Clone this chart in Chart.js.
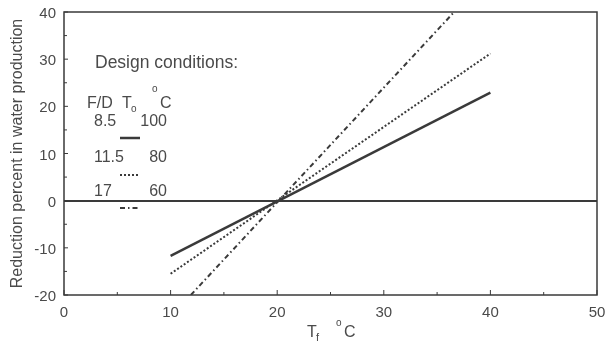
<!DOCTYPE html>
<html>
<head>
<meta charset="utf-8">
<script src="https://cdn.jsdelivr.net/npm/chart.js@4/dist/chart.umd.min.js"></script>
<style>
  html, body { margin: 0; padding: 0; background: #fff; }
</style>
</head>
<body>
<canvas id="chart" width="616" height="342"></canvas>
<script>
// axis ticks
var xTicks = [0, 10, 20, 30, 40, 50];
var yTicks = [-20, -10, 0, 10, 20, 30, 40];

// design cases: feed/distillate ratio and top brine temperature
var caseFD = ['8.5', '11.5', '17'];
var caseTo = ['100', '80', '60'];

// feed temperature Tf (°C) vs reduction percent in water production
var tfA = [10, 40];
var redA = [-11.7, 22.9];
var tfB = [10, 40];
var redB = [-15.5, 31.2];
var tfC = [11.9, 36.6];
var redC = [-20, 40];

var INK = '#3a3a3a';
var TEXT = '#4a4a4a';
var FONT = '"Liberation Sans", Arial, sans-serif';
var dashes = [[], [2, 2], [5, 3, 1.5, 3]];

function toPoints(xs, ys) {
    return xs.map(function (x, i) { return { x: x, y: ys[i] }; });
}

// frame, inner tick marks, legend block and x title
var decor = {
    id: 'decor',
    afterDraw: function (chart) {
        var ctx = chart.ctx;
        var a = chart.chartArea;
        var sx = chart.scales.x, sy = chart.scales.y;
        ctx.save();
        ctx.strokeStyle = INK;
        ctx.lineWidth = 1.5;
        ctx.strokeRect(a.left, a.top, a.right - a.left, a.bottom - a.top);

        // inner ticks, minor ones halfway between labels
        ctx.lineWidth = 1;
        for (var v = xTicks[0]; v <= xTicks[xTicks.length - 1]; v += 5) {
            var px = sx.getPixelForValue(v);
            var len = v % 10 === 0 ? 5 : 3;
            ctx.beginPath();
            ctx.moveTo(px, a.bottom);
            ctx.lineTo(px, a.bottom - len);
            ctx.stroke();
        }
        for (var w = yTicks[0]; w <= yTicks[yTicks.length - 1]; w += 5) {
            var py = sy.getPixelForValue(w);
            var l2 = w % 10 === 0 ? 4 : 3;
            ctx.beginPath();
            ctx.moveTo(a.left, py);
            ctx.lineTo(a.left + l2, py);
            ctx.stroke();
        }

        // legend block
        ctx.fillStyle = TEXT;
        ctx.textBaseline = 'middle';
        ctx.textAlign = 'left';
        ctx.font = '17.5px ' + FONT;
        ctx.fillText('Design conditions:', 95, 63);
        ctx.font = '16px ' + FONT;
        ctx.fillText('F/D', 87, 104);
        ctx.fillText('T', 122, 104);
        ctx.fillText('C', 160, 104);
        ctx.font = '10px ' + FONT;
        ctx.fillText('o', 131, 109);
        ctx.fillText('o', 152, 89);

        var rowY = [122, 158, 192];
        var sampleY = [138, 175, 208];
        for (var i = 0; i < caseFD.length; i++) {
            ctx.font = '16px ' + FONT;
            ctx.textAlign = 'left';
            ctx.fillText(caseFD[i], 94, rowY[i]);
            ctx.textAlign = 'right';
            ctx.fillText(caseTo[i], 167, rowY[i]);
            ctx.beginPath();
            ctx.setLineDash(dashes[i]);
            ctx.lineWidth = i === 0 ? 2.5 : 2;
            ctx.moveTo(120, sampleY[i]);
            ctx.lineTo(140, sampleY[i]);
            ctx.stroke();
        }
        ctx.setLineDash([]);

        // x axis title: T_f  °C
        ctx.textAlign = 'left';
        ctx.textBaseline = 'alphabetic';
        ctx.font = '16px ' + FONT;
        ctx.fillText('T', 307, 337);
        ctx.fillText('C', 344, 337);
        ctx.font = '11px ' + FONT;
        ctx.fillText('f', 316, 341);
        ctx.font = '10px ' + FONT;
        ctx.fillText('o', 336, 326);
        ctx.restore();
    }
};

var series = [
    { data: toPoints(tfA, redA), width: 2.5 },
    { data: toPoints(tfB, redB), width: 2 },
    { data: toPoints(tfC, redC), width: 2 }
];

new Chart(document.getElementById('chart'), {
    type: 'scatter',
    data: {
        datasets: series.map(function (s, i) {
            return {
                data: s.data,
                showLine: true,
                borderColor: INK,
                borderWidth: s.width,
                borderDash: dashes[i],
                pointRadius: 0,
                fill: false
            };
        })
    },
    options: {
        responsive: false,
        animation: false,
        layout: { padding: { top: 12, right: 19, left: 0, bottom: 0 } },
        plugins: { legend: { display: false }, tooltip: { enabled: false } },
        scales: {
            x: {
                type: 'linear',
                min: xTicks[0],
                max: xTicks[xTicks.length - 1],
                afterBuildTicks: function (scale) {
                    scale.ticks = xTicks.map(function (v) { return { value: v }; });
                },
                afterFit: function (scale) {
                    scale.height = 47;
                    scale.paddingLeft = 0;
                    scale.paddingRight = 0;
                },
                grid: { display: false },
                border: { display: false },
                ticks: { color: TEXT, font: { family: FONT, size: 15 }, padding: 1, maxRotation: 0 }
            },
            y: {
                type: 'linear',
                min: yTicks[0],
                max: yTicks[yTicks.length - 1],
                afterBuildTicks: function (scale) {
                    scale.ticks = yTicks.map(function (v) { return { value: v }; });
                },
                afterFit: function (scale) {
                    scale.width = 64;
                    scale.paddingTop = 0;
                    scale.paddingBottom = 0;
                },
                grid: {
                    drawTicks: false,
                    color: function (c) { return c.tick && c.tick.value === 0 ? INK : 'rgba(0,0,0,0)'; },
                    lineWidth: 2
                },
                border: { display: false },
                ticks: { color: TEXT, font: { family: FONT, size: 15 }, padding: 8, labelOffset: 2 },
                title: {
                    display: true,
                    text: 'Reduction percent in water production',
                    color: TEXT,
                    font: { family: FONT, size: 16 },
                    padding: { top: 8, bottom: 0 }
                }
            }
        }
    },
    plugins: [decor]
});
</script>
</body>
</html>
